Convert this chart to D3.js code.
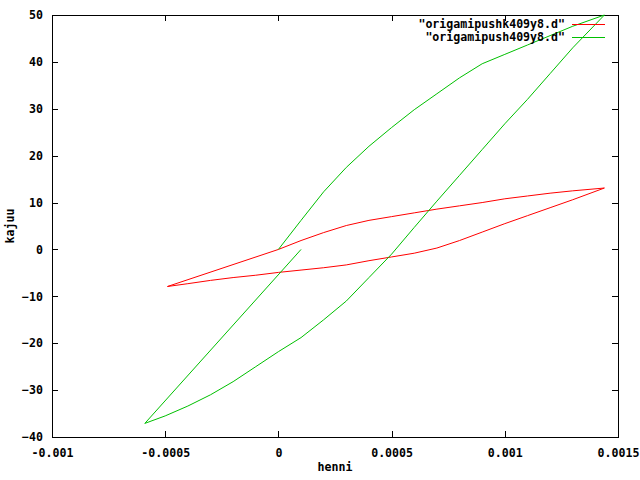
<!DOCTYPE html>
<html>
<head>
<meta charset="utf-8">
<script src="https://cdn.jsdelivr.net/npm/d3@7"></script>
<style>
  html, body { margin: 0; padding: 0; background: #fff; }
  svg { display: block; }
  text { font-family: "DejaVu Sans Mono", monospace; font-weight: bold; font-size: 11.6px; fill: #000; }
</style>
</head>
<body>
<div id="chart"></div>
<script>
// ── 数据 ────────────────────────────────────────────────────────────────
const seriesNames = ['"origamipushk409y8.d"', '"origamipush409y8.d"'];
const seriesColors = ['#ff0000', '#00c000'];

// henni, kajuu
const redX = [0, 0.0001, 0.0002, 0.0003, 0.0004, 0.0005, 0.0006, 0.0007, 0.0008, 0.0009, 0.001, 0.0011, 0.0012, 0.0013, 0.00144,
              0.0013, 0.0012, 0.0011, 0.001, 0.0009, 0.0008, 0.0007, 0.0006, 0.0005, 0.0004, 0.0003, 0.0002, 0.0001, 0,
              -0.0001, -0.0002, -0.0003, -0.0004, -0.00049, 0];
const redY = [0, 1.9, 3.6, 5.1, 6.2, 7.0, 7.8, 8.6, 9.3, 10.0, 10.8, 11.4, 12.0, 12.5, 13.1,
              10.6, 8.9, 7.2, 5.5, 3.7, 1.9, 0.3, -0.8, -1.6, -2.4, -3.3, -3.9, -4.4, -4.9,
              -5.5, -6.0, -6.6, -7.3, -7.9, 0];

const greenX = [0, 0.0001, 0.0002, 0.0003, 0.0004, 0.0005, 0.0006, 0.0007, 0.0008, 0.0009, 0.001, 0.0011, 0.0012, 0.0013, 0.00144,
                0.0013, 0.0012, 0.0011, 0.001, 0.0009, 0.0008, 0.0007, 0.0006, 0.0005, 0.0004, 0.0003, 0.0002, 0.0001, 0,
                -0.0001, -0.0002, -0.0003, -0.0004, -0.0005, -0.00059, 0.0001];
const greenY = [0, 6.2, 12.3, 17.5, 22.0, 26.0, 29.8, 33.2, 36.6, 39.6, 41.6, 43.6, 45.6, 47.6, 50,
                43.0, 37.5, 32.0, 26.8, 21.3, 15.8, 10.3, 4.7, -1.0, -6.0, -11.0, -15.0, -18.8, -21.8,
                -25.0, -28.2, -31.0, -33.4, -35.5, -37.1, 0];

const xTicks = [-0.001, -0.0005, 0, 0.0005, 0.001, 0.0015];
const xTickLabels = ['-0.001', '-0.0005', '0', '0.0005', '0.001', '0.0015'];
const yTicks = [-40, -30, -20, -10, 0, 10, 20, 30, 40, 50];

// ── 画布 ────────────────────────────────────────────────────────────────
const width = 640, height = 480;
const mLeft = 52, mRight = 618, mTop = 15, mBottom = 437;
const tickLen = 6;

const svg = d3.select('#chart').append('svg')
    .attr('width', width)
    .attr('height', height);

const x = d3.scaleLinear().domain([-0.001, 0.0015]).range([mLeft, mRight]);
const y = d3.scaleLinear().domain([-40, 50]).range([mBottom, mTop]);

// ── 坐标轴 (gnuplot 风格：刻度朝内，四边镜像) ─────────────────────────────
const axisG = svg.append('g').attr('shape-rendering', 'crispEdges');

axisG.append('g')
    .attr('transform', `translate(0,${mBottom})`)
    .call(d3.axisBottom(x).tickValues(xTicks).tickSize(-tickLen).tickPadding(tickLen + 6)
        .tickFormat((d, i) => xTickLabels[i]))
    .call(g => g.select('.domain').remove());

axisG.append('g')
    .attr('transform', `translate(0,${mTop})`)
    .call(d3.axisTop(x).tickValues(xTicks).tickSize(-tickLen).tickFormat(''))
    .call(g => g.select('.domain').remove());

axisG.append('g')
    .attr('transform', `translate(${mLeft},0)`)
    .call(d3.axisLeft(y).tickValues(yTicks).tickSize(-tickLen).tickPadding(tickLen + 3)
        .tickFormat(d3.format('d')))
    .call(g => g.select('.domain').remove());

axisG.append('g')
    .attr('transform', `translate(${mRight},0)`)
    .call(d3.axisRight(y).tickValues(yTicks).tickSize(-tickLen).tickFormat(''))
    .call(g => g.select('.domain').remove());

axisG.selectAll('.tick line').attr('stroke', '#000');
axisG.selectAll('.tick text')
    .style('font-family', '"DejaVu Sans Mono", monospace')
    .style('font-weight', 'bold')
    .style('font-size', '11.6px')
    .attr('fill', '#000');

// ── 曲线 ────────────────────────────────────────────────────────────────
const line = d3.line().x(d => x(d[0])).y(d => y(d[1]));
const series = [
    { name: seriesNames[0], color: seriesColors[0], pts: redX.map((v, i) => [v, redY[i]]) },
    { name: seriesNames[1], color: seriesColors[1], pts: greenX.map((v, i) => [v, greenY[i]]) }
];

svg.append('g').selectAll('path')
    .data(series)
    .enter()
    .append('path')
    .attr('d', d => line(d.pts))
    .attr('fill', 'none')
    .attr('stroke', d => d.color)
    .attr('stroke-width', 1);

// 边框
axisG.append('rect')
    .attr('x', mLeft).attr('y', mTop)
    .attr('width', mRight - mLeft).attr('height', mBottom - mTop)
    .attr('fill', 'none')
    .attr('stroke', '#000');

// ── 图例 ────────────────────────────────────────────────────────────────
const legend = svg.append('g');
series.forEach((s, i) => {
    const ly = 24 + i * 13;
    legend.append('text')
        .attr('x', 565).attr('y', ly)
        .attr('dy', '0.35em')
        .attr('text-anchor', 'end')
        .text(s.name);
    legend.append('line')
        .attr('x1', 572).attr('x2', 605)
        .attr('y1', ly).attr('y2', ly)
        .attr('stroke', s.color)
        .attr('shape-rendering', 'crispEdges');
});

// ── 轴标题 ──────────────────────────────────────────────────────────────
svg.append('text')
    .attr('x', (mLeft + mRight) / 2).attr('y', 471)
    .attr('text-anchor', 'middle')
    .text('henni');

svg.append('text')
    .attr('transform', `translate(14,${(mTop + mBottom) / 2}) rotate(-90)`)
    .attr('text-anchor', 'middle')
    .text('kajuu');
</script>
</body>
</html>
